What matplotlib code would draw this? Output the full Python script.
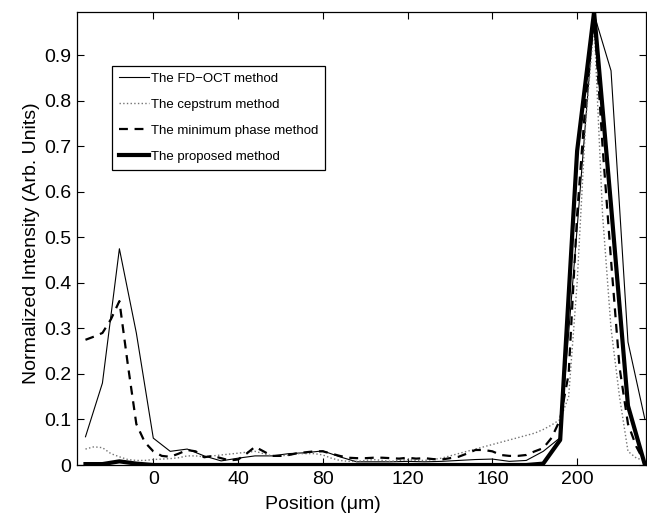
import numpy as np
import matplotlib
matplotlib.use('Agg')
import matplotlib.pyplot as plt

plt.rcParams.update({
    "font.family": ["Liberation Sans", "DejaVu Sans"],
    "font.size": 14,
})

# ------------------------- data ----------------------------------------------
# coarse grid (8 um) for FD-OCT and proposed method
pos_coarse = np.arange(-32, 233, 8)
fdoct = [0.062, 0.18, 0.475, 0.29, 0.059, 0.03, 0.035, 0.02, 0.009, 0.015,
         0.02, 0.02, 0.025, 0.027, 0.031, 0.018, 0.007, 0.007, 0.007, 0.008,
         0.007, 0.008, 0.01, 0.012, 0.013, 0.008, 0.01, 0.03, 0.06, 0.52,
         0.99, 0.866, 0.27, 0.1]
proposed = [0.002, 0.002, 0.008, 0.003, 0.0, 0.0, 0.0, 0.0, 0.0, 0.0,
            0.0, 0.0, 0.0, 0.0, 0.0, 0.0, 0.0, 0.0, 0.0, 0.0,
            0.0, 0.0, 0.0, 0.0, 0.0, 0.0, 0.0, 0.003, 0.055, 0.69,
            0.995, 0.57, 0.13, 0.0]

# fine grid (4 um) for cepstrum and minimum phase method
pos_fine = np.arange(-32, 233, 4)
cepstrum = [0.035, 0.04, 0.038, 0.025, 0.018, 0.012, 0.01, 0.01, 0.012, 0.013,
            0.014, 0.016, 0.02, 0.02, 0.018, 0.02, 0.022, 0.024, 0.026, 0.028,
            0.03, 0.025, 0.02, 0.02, 0.022, 0.025, 0.025, 0.025, 0.022, 0.015,
            0.01, 0.008, 0.008, 0.01, 0.012, 0.01, 0.008, 0.01, 0.012, 0.01,
            0.01, 0.012, 0.015, 0.02, 0.025, 0.03, 0.035, 0.04, 0.045, 0.05,
            0.055, 0.06, 0.065, 0.07, 0.078, 0.088, 0.1, 0.15, 0.4, 0.75,
            0.97, 0.55, 0.3, 0.15, 0.03, 0.015, 0.01]
minphase = [0.275, 0.282, 0.29, 0.32, 0.36, 0.22, 0.09, 0.05, 0.03, 0.02,
            0.018, 0.025, 0.033, 0.03, 0.017, 0.02, 0.015, 0.01, 0.012, 0.025,
            0.04, 0.03, 0.02, 0.02, 0.022, 0.026, 0.028, 0.03, 0.03, 0.025,
            0.02, 0.016, 0.015, 0.015, 0.016, 0.016, 0.015, 0.014, 0.016, 0.014,
            0.015, 0.013, 0.012, 0.015, 0.018, 0.025, 0.033, 0.033, 0.03, 0.022,
            0.02, 0.02, 0.022, 0.03, 0.037, 0.06, 0.1, 0.2, 0.55, 0.8,
            0.99, 0.7, 0.45, 0.215, 0.09, 0.04, 0.004]

legend_names = [
    'The FD\u2212OCT method',
    'The cepstrum method',
    'The minimum phase method',
    'The proposed method',
]

xticks = [0, 40, 80, 120, 160, 200]
yticks = [0, 0.1, 0.2, 0.3, 0.4, 0.5, 0.6, 0.7, 0.8, 0.9]

# ------------------------- plot ----------------------------------------------
fig = plt.figure(figsize=(6.47, 5.15), dpi=100)
ax = fig.add_axes([77 / 647, 50 / 515, 569 / 647, 453 / 515])

ax.plot(pos_coarse, fdoct, 'k-', lw=0.8, label=legend_names[0])
ax.plot(pos_fine, cepstrum, ':', color='0.45', lw=1.0, label=legend_names[1])
ax.plot(pos_fine, minphase, 'k--', lw=1.6, dashes=(4, 3), label=legend_names[2])
ax.plot(pos_coarse, proposed, 'k-', lw=3.0, label=legend_names[3])

ax.set_xlim(-36, 232.5)
ax.set_ylim(0, 0.995)
ax.set_xticks(xticks)
ax.set_yticks(yticks)
ax.set_yticklabels(['0'] + ['%.1f' % v for v in yticks[1:]])
ax.tick_params(direction='in', top=True, right=True, length=5, width=0.8, pad=4)
for s in ax.spines.values():
    s.set_linewidth(0.9)

ax.set_xlabel('Position (\u03bcm)')
ax.xaxis.set_label_coords((323 - 77) / 569, -0.068)
ax.set_ylabel('Normalized Intensity (Arb. Units)')
ax.yaxis.set_label_coords(-0.065, 0.49)

leg = ax.legend(loc='upper left', bbox_to_anchor=((112 - 77) / 569, (465 - 66) / 453),
                borderaxespad=0, fancybox=False, edgecolor='k', framealpha=1,
                fontsize=9.5, handlelength=2.3, handletextpad=0.15,
                labelspacing=1.05, borderpad=0.5)
leg.get_frame().set_linewidth(0.9)

plt.savefig('out.png', dpi=100)
